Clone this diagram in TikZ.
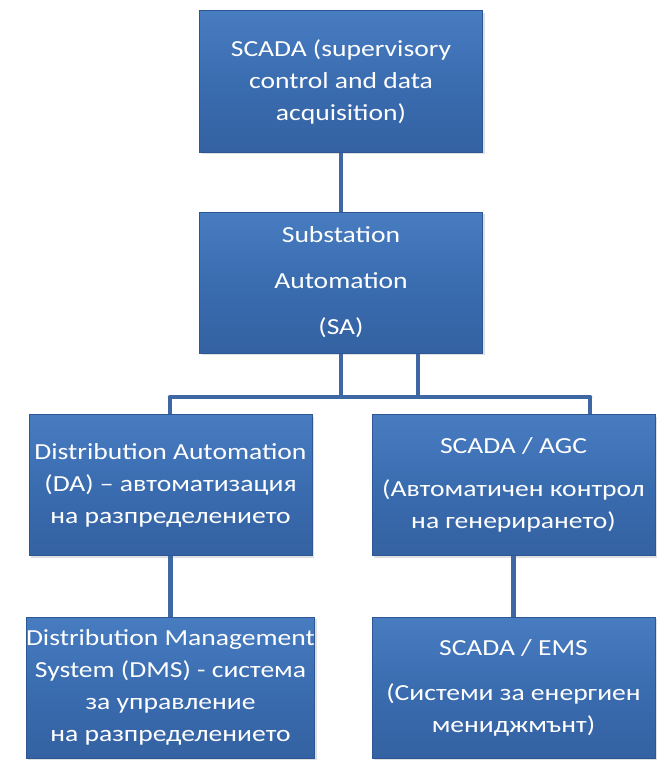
\documentclass[tikz,border=0pt]{standalone}
\usepackage{fontspec}
\setmainfont{Carlito}[FakeStretch=1.2]
\usetikzlibrary{shadows}

\definecolor{boxblue}{RGB}{58,108,176}
\definecolor{boxtop}{RGB}{72,124,192}
\definecolor{boxlow}{RGB}{52,98,162}
\definecolor{boxedge}{RGB}{44,86,148}
\definecolor{linkblue}{RGB}{62,104,164}

\tikzset{
  blok/.style={draw=boxedge, line width=1pt, top color=boxtop, bottom color=boxlow,
    middle color=boxblue, minimum width=283pt, minimum height=141pt, inner sep=0pt,
    align=center, text=white, font=\fontsize{23}{32}\selectfont,
    drop shadow={opacity=0.25, shadow xshift=2pt, shadow yshift=-2pt}},
  link/.style={draw=linkblue, line width=4.5pt}
}

\begin{document}
\begin{tikzpicture}[x=1pt,y=-1pt]
    \useasboundingbox (0,0) rectangle (665,765);
    % top of the tree
    \node[blok] (scada) at (341,81.5) {SCADA (supervisory\\control and data\\acquisition)};
    \node[blok] (sa) at (341,282.5) {Substation\\[14pt]Automation\\[14pt](SA)};
    % second level
    \node[blok] (da) at (170.5,485) {Distribution Automation\\(DA) -- автоматизация\\на разпределението};
    \node[blok] (agc) at (513.5,485) {SCADA / AGC\\[11pt](Автоматичен контрол\\на генерирането)};
    % third level
    \node[blok] (dms) at (170.5,687.5) {Distribution Management\\System (DMS) - система\\за управление\\на разпределението};
    \node[blok] (ems) at (513.5,687.5) {SCADA / EMS\\[13pt](Системи за енергиен\\мениджмънт)};
    % connectors
    \coordinate (busL) at (170,397);
    \coordinate (busR) at (590,397);
    \coordinate (tap) at (418,397);
    \draw[link] (scada) -- (sa);
    \draw[link] (sa.south) -- (sa.south |- busL);
    \draw[link] (tap |- sa.south) -- (tap);
    \draw[link,line cap=round] (busL) -- (busR);
    \draw[link] (busL) -- (busL |- da.north);
    \draw[link] (busR) -- (busR |- agc.north);
    \draw[link] (da) -- (dms);
    \draw[link] (agc) -- (ems);
\end{tikzpicture}
\end{document}
